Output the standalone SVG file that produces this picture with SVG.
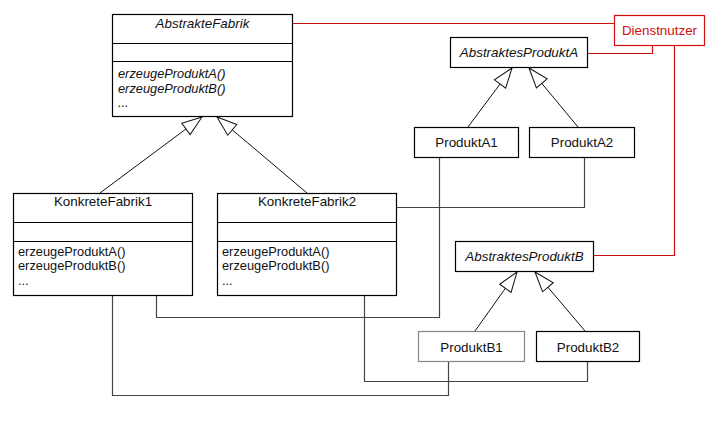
<svg xmlns="http://www.w3.org/2000/svg" width="721" height="422" viewBox="0 0 721 422">
<style>
  .box{fill:#fff;stroke:#000;stroke-width:1.2}
  .div{stroke:#000;stroke-width:1.2}
  .t{font-family:"Liberation Sans",Arial,sans-serif;font-size:13.4px;fill:#111}
  .m{font-size:12.8px}
  .c{text-anchor:middle}
  .i{font-style:italic}
  .red{fill:#fff;stroke:#d01010;stroke-width:1.2}
  .rt{fill:#d01010}
  .conn{fill:none;stroke:#444;stroke-width:1.2}
  .rconn{fill:none;stroke:#c81010;stroke-width:1.2}
  .inh{fill:none;stroke:#111;stroke-width:1}
</style>
<defs>
  <marker id="tri" viewBox="-22 -9 24 18" refX="0" refY="0" markerWidth="24" markerHeight="18" markerUnits="userSpaceOnUse" orient="auto">
    <path d="M0,0 L-20,-7 L-20,7 Z" fill="#fff" stroke="#111" stroke-width="1"/>
  </marker>
</defs>

<g id="connectors">
  <line class="inh" x1="100" y1="193" x2="202" y2="117" marker-end="url(#tri)"/>
  <line class="inh" x1="307" y1="193" x2="217" y2="117" marker-end="url(#tri)"/>
  <line class="inh" x1="468" y1="127" x2="512" y2="68" marker-end="url(#tri)"/>
  <line class="inh" x1="578" y1="127" x2="529" y2="68" marker-end="url(#tri)"/>
  <line class="inh" x1="475" y1="331" x2="517" y2="272" marker-end="url(#tri)"/>
  <line class="inh" x1="585" y1="331" x2="535" y2="272" marker-end="url(#tri)"/>
  <polyline class="rconn" points="292,23.5 614,23.5"/>
  <polyline class="rconn" points="587,53.5 652.5,53.5 652.5,45.5"/>
  <polyline class="rconn" points="674.5,45.5 674.5,255.5 593.5,255.5"/>
  <polyline class="conn" points="156.5,295.5 156.5,317.5 439.5,317.5 439.5,157.5"/>
  <polyline class="conn" points="112.5,295.5 112.5,395.5 448.5,395.5 448.5,361.5"/>
  <polyline class="conn" points="396.5,207.5 584.5,207.5 584.5,157.5"/>
  <polyline class="conn" points="364.5,295.5 364.5,381.5 587.5,381.5 587.5,361.5"/>
</g>

<g id="AbstrakteFabrik">
  <rect class="box" x="112.5" y="14.5" width="180" height="102"/>
  <line class="div" x1="112.5" y1="43.5" x2="292.5" y2="43.5"/>
  <line class="div" x1="112.5" y1="61.5" x2="292.5" y2="61.5"/>
  <text class="t c i" x="202.5" y="28">AbstrakteFabrik</text>
  <text class="t m i" x="118" y="78">erzeugeProduktA()</text>
  <text class="t m i" x="118" y="92.5">erzeugeProduktB()</text>
  <text class="t m i" x="118" y="107">...</text>
</g>

<g id="KonkreteFabrik1">
  <rect class="box" x="13.5" y="193.5" width="179" height="102"/>
  <line class="div" x1="13.5" y1="222.5" x2="192.5" y2="222.5"/>
  <line class="div" x1="13.5" y1="241.5" x2="192.5" y2="241.5"/>
  <text class="t c" x="103" y="206">KonkreteFabrik1</text>
  <text class="t m" x="18" y="255.5">erzeugeProduktA()</text>
  <text class="t m" x="18" y="270">erzeugeProduktB()</text>
  <text class="t m" x="18" y="284.5">...</text>
</g>

<g id="KonkreteFabrik2">
  <rect class="box" x="217.5" y="193.5" width="179" height="102"/>
  <line class="div" x1="217.5" y1="222.5" x2="396.5" y2="222.5"/>
  <line class="div" x1="217.5" y1="241.5" x2="396.5" y2="241.5"/>
  <text class="t c" x="307" y="206">KonkreteFabrik2</text>
  <text class="t m" x="222" y="255.5">erzeugeProduktA()</text>
  <text class="t m" x="222" y="270">erzeugeProduktB()</text>
  <text class="t m" x="222" y="284.5">...</text>
</g>

<g id="AbstraktesProduktA">
  <rect class="box" x="450.5" y="37.5" width="137" height="30"/>
  <text class="t c i" x="519" y="57">AbstraktesProduktA</text>
</g>

<g id="Dienstnutzer">
  <rect class="red" x="614.5" y="15.5" width="90" height="30"/>
  <text class="t c rt" x="659.5" y="35">Dienstnutzer</text>
</g>

<g id="ProduktA1">
  <rect class="box" x="414.5" y="127.5" width="104" height="30"/>
  <text class="t c" x="466.5" y="147">ProduktA1</text>
</g>

<g id="ProduktA2">
  <rect class="box" x="529.5" y="127.5" width="105" height="30"/>
  <text class="t c" x="582" y="147">ProduktA2</text>
</g>

<g id="AbstraktesProduktB">
  <rect class="box" x="455.5" y="241.5" width="138" height="30"/>
  <text class="t c i" x="524.5" y="261">AbstraktesProduktB</text>
</g>

<g id="ProduktB1">
  <rect class="box" x="418.5" y="331.5" width="106" height="30" style="stroke:#888"/>
  <text class="t c" x="471.5" y="352">ProduktB1</text>
</g>

<g id="ProduktB2">
  <rect class="box" x="536.5" y="331.5" width="103" height="30"/>
  <text class="t c" x="588" y="352">ProduktB2</text>
</g>
</svg>
